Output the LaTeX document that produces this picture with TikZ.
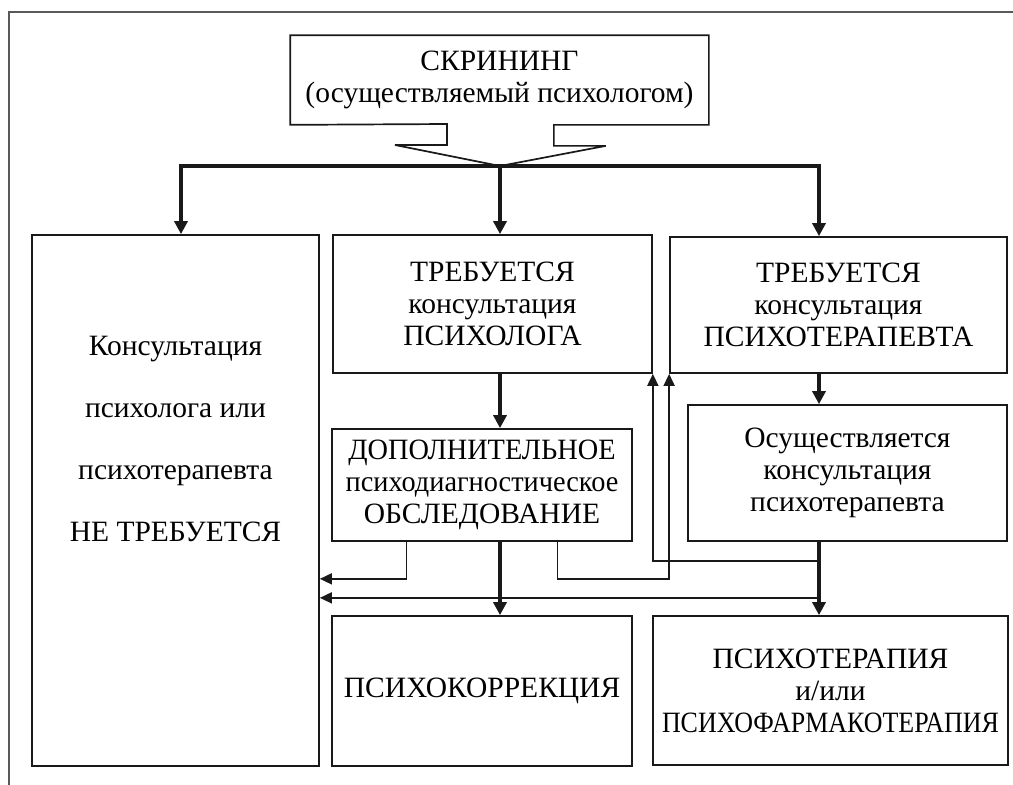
\documentclass[tikz,border=0pt]{standalone}
\usepackage{fontspec}
\setmainfont{Liberation Serif}
\usetikzlibrary{arrows.meta,calc,positioning}
\definecolor{ink}{gray}{0.1}
\tikzset{
  box/.style={draw=ink,line width=1.7pt,rectangle,align=center,text=black,inner sep=0pt},
  boxfont/.style={font=\fontsize{29.5}{32}\selectfont},
  thin/.style={draw=ink,line width=1.7pt,-{Triangle[width=11pt,length=12pt]}},
  bold/.style={draw=ink,line width=3.2pt,-{Triangle[width=13pt,length=13pt]}},
}
\begin{document}
\begin{tikzpicture}[x=1pt,y=-1pt]
  \useasboundingbox (0,0) rectangle (1013,785);
  % frame
  \draw[gray!70!black,line width=1.5pt] (1013,12) -- (9,12) -- (9,785);
  % screening callout
  \node[box,draw=none,boxfont,minimum width=417,minimum height=88] (scr) at (499.5,80)
    {СКРИНИНГ\\(осуществляемый психологом)};
  \coordinate (lcol) at (181,166);
  \coordinate (mcol) at (500,166);
  \coordinate (rcol) at (819,166);
  \draw[ink,line width=1.7pt] (scr.south west) -- (scr.north west) -- (scr.north east)
    -- (scr.south east) -- ++(-155,0) -- ++(0,21) -- ++(52,0) -- (mcol)
    -- ++(-105,-21) -- ++(52,0) -- ++(0,-21) -- cycle;
  % boxes
  \node[box,minimum width=287,minimum height=531] (nonneed) at (175.5,500.5) {};
  \node[text=black,align=center,inner sep=0pt,font=\fontsize{29.5}{62}\selectfont,
    below=102pt of nonneed.north] (nonneedtxt)
    {Консультация\\психолога или\\психотерапевта\\НЕ ТРЕБУЕТСЯ};
  \node[box,boxfont,minimum width=319,minimum height=138] (psych) at (492.5,304)
    {ТРЕБУЕТСЯ\\консультация\\ПСИХОЛОГА};
  \node[box,boxfont,minimum width=337,minimum height=136] (psyther) at (838.5,305)
    {ТРЕБУЕТСЯ\\консультация\\ПСИХОТЕРАПЕВТА};
  \node[box,boxfont,minimum width=300,minimum height=112] (extra) at (482,485)
    {\scalebox{0.96}[1]{ДОПОЛНИТЕЛЬНОЕ}\\\scalebox{0.96}[1]{психодиагностическое}\\ОБСЛЕДОВАНИЕ};
  \node[box,boxfont,minimum width=319,minimum height=136] (cons) at (847.5,473)
    {Осуществляется\\консультация\\психотерапевта};
  \node[box,boxfont,minimum width=300,minimum height=150] (corr) at (482,691)
    {ПСИХОКОРРЕКЦИЯ};
  \node[box,boxfont,minimum width=355,minimum height=149] (therapy) at (830.5,690.5)
    {ПСИХОТЕРАПИЯ\\и/или\\\scalebox{0.88}[1]{ПСИХОФАРМАКОТЕРАПИЯ}};
  % screening branches
  \draw[bold] (mcol) -- (lcol) -- (lcol |- nonneed.north);
  \draw[bold] (mcol) -- (rcol) -- (rcol |- psyther.north);
  \draw[bold] (mcol) -- (mcol |- psych.north);
  % main flow
  \draw[bold] (mcol |- psych.south) -- (mcol |- extra.north);
  \draw[bold] (mcol |- extra.south) -- (mcol |- corr.north);
  \draw[bold] (rcol |- psyther.south) -- (rcol |- cons.north);
  \draw[bold] (rcol |- cons.south) -- (rcol |- therapy.north);
  % returns
  \draw[thin] ($(extra.south west)!.25!(extra.south east)$) -- ++(0,37) coordinate (k1)
    -- (k1 -| nonneed.east);
  \draw[thin] ($(extra.south west)!.75!(extra.south east)$) -- ++(0,37) -| (psyther.south west);
  \draw[thin] (rcol |- cons.south) ++(0,19) -| (psych.south east);
  \draw[thin] (rcol |- cons.south) ++(0,56) coordinate (k2) -- (k2 -| nonneed.east);
\end{tikzpicture}
\end{document}
